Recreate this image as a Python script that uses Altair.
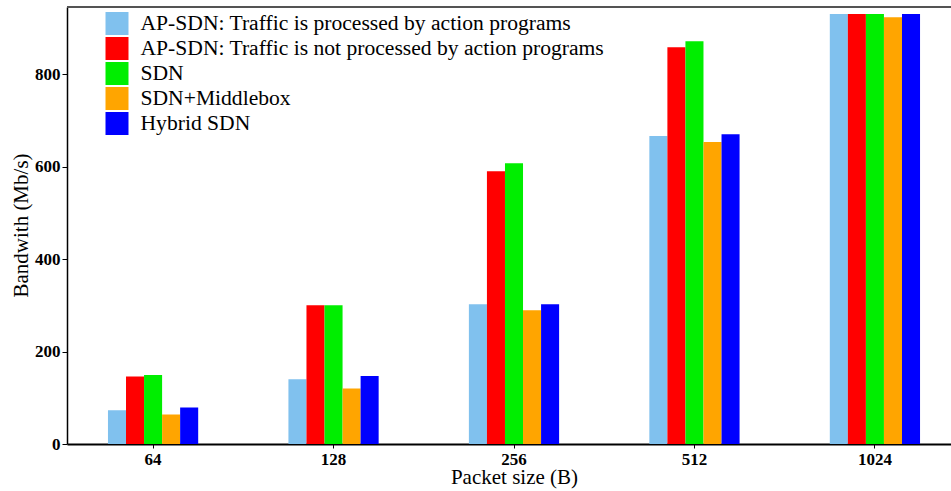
import altair as alt
import pandas as pd

# Packet sizes (bytes) on the x axis
packet_sizes = ["64", "128", "256", "512", "1024"]

# Series names, in legend / group order
series_names = [
    "AP-SDN: Traffic is processed by action programs",
    "AP-SDN: Traffic is not processed by action programs",
    "SDN",
    "SDN+Middlebox",
    "Hybrid SDN",
]
series_colors = ["#80C1EE", "#FF0000", "#00EE00", "#FFA500", "#0000FF"]

# Bandwidth (Mb/s) per packet size
ap_processed = [73, 140, 302, 666, 930]
ap_not_processed = [146, 300, 590, 858, 930]
sdn = [149, 300, 607, 871, 930]
sdn_middlebox = [64, 120, 289, 653, 923]
hybrid_sdn = [79, 147, 302, 670, 930]

all_series = [ap_processed, ap_not_processed, sdn, sdn_middlebox, hybrid_sdn]

rows = []
for name, vals in zip(series_names, all_series):
    for size, v in zip(packet_sizes, vals):
        rows.append({"size": size, "series": name, "bandwidth": v})
df = pd.DataFrame(rows)

FONT = "Liberation Serif"
W, H = 884, 437

bars = alt.Chart(df).mark_bar().encode(
    x=alt.X(
        "size:N",
        sort=packet_sizes,
        scale=alt.Scale(range=[0, 894], paddingInner=0.5, paddingOuter=0.227),
        axis=alt.Axis(
            title="Packet size (B)",
            labelAngle=0,
            labelFont=FONT,
            labelFontSize=17,
            labelFontWeight="bold",
            labelColor="black",
            labelPadding=3,
            tickColor="black",
            tickSize=4,
            tickWidth=1,
            domainColor="black",
            domainWidth=2,
            titleFont=FONT,
            titleFontSize=21,
            titleFontWeight="normal",
            titleColor="black",
            titleX=447,
            titleY=39,
            titleBaseline="alphabetic",
        ),
    ),
    xOffset=alt.XOffset(
        "series:N",
        sort=series_names,
        scale=alt.Scale(paddingInner=0, paddingOuter=0),
    ),
    y=alt.Y(
        "bandwidth:Q",
        scale=alt.Scale(domain=[0, 945], nice=False, zero=True),
        axis=alt.Axis(
            title="Bandwith (Mb/s)",
            values=[0, 200, 400, 600, 800],
            grid=False,
            labelFont=FONT,
            labelFontSize=17,
            labelFontWeight="bold",
            labelColor="black",
            labelPadding=2,
            tickColor="black",
            tickSize=5,
            tickWidth=1,
            domainColor="black",
            domainWidth=1.5,
            titleFont=FONT,
            titleFontSize=21,
            titleFontWeight="normal",
            titleColor="black",
            titleX=-46,
            titleY=218,
            titleBaseline="middle",
        ),
    ),
    color=alt.Color(
        "series:N",
        sort=series_names,
        scale=alt.Scale(domain=series_names, range=series_colors),
        legend=alt.Legend(
            title=None,
            orient="none",
            legendX=38.5,
            legendY=5,
            padding=0,
            symbolType="square",
            symbolSize=529,
            symbolStrokeWidth=0,
            symbolOpacity=1,
            labelFont=FONT,
            labelFontSize=21.6,
            labelColor="black",
            labelOffset=12,
            labelLimit=0,
            rowPadding=2,
        ),
    ),
)

# Top frame line of the panel
top_line = alt.Chart(df).mark_rule(color="#555555", strokeWidth=1.5).encode(
    x=alt.value(0), x2=alt.value(W), y=alt.value(0)
)

chart = (
    alt.layer(bars, top_line)
    .properties(
        width=W,
        height=H,
        autosize=alt.AutoSizeParams(type="none"),
        padding={"left": 67, "top": 7, "right": 0, "bottom": 47},
        background="white",
    )
    .configure(font=FONT)
    .configure_axis(labelFont=FONT, titleFont=FONT)
    .configure_legend(labelFont=FONT)
    .configure_view(stroke=None)
)

chart.save("out.html", embed_options={"renderer": "svg", "actions": False})
